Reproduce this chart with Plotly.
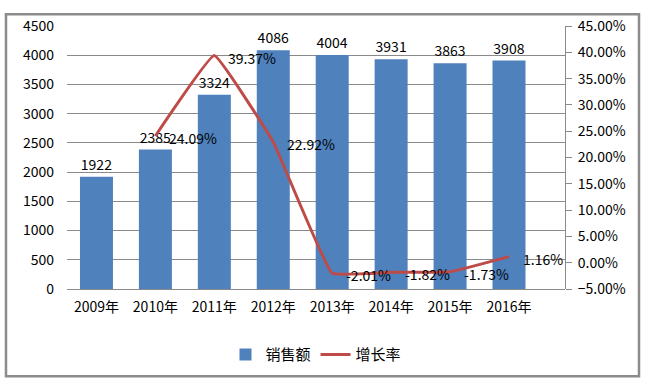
import plotly.graph_objects as go

years = ["2009年", "2010年", "2011年", "2012年", "2013年", "2014年", "2015年", "2016年"]
sales = [1922, 2385, 3324, 4086, 4004, 3931, 3863, 3908]
growth_years = ["2010年", "2011年", "2012年", "2013年", "2014年", "2015年", "2016年"]
growth = [0.2409, 0.3937, 0.2292, -0.0201, -0.0182, -0.0173, 0.0116]
growth_labels = ["24.09%", "39.37%", "22.92%", "-2.01%", "-1.82%", "-1.73%", "1.16%"]

FONT = "Noto Sans CJK SC"
BAR = "#4F81BD"
LINE = "#BE4B48"

fig = go.Figure()
fig.add_trace(go.Bar(
    x=years, y=sales, name="销售额", marker=dict(color=BAR, line=dict(width=0)),
    text=[str(v) for v in sales], textposition="outside", cliponaxis=False,
    textfont=dict(family=FONT, size=14, color="#000000"),
))
fig.add_trace(go.Scatter(
    x=growth_years, y=growth, name="增长率", yaxis="y2", mode="lines",
    line=dict(color=LINE, width=3, shape="spline", smoothing=0.25),
    cliponaxis=False,
))
for xv, yv, lab in zip(growth_years, growth, growth_labels):
    fig.add_annotation(x=xv, y=yv, yref="y2", text=lab, showarrow=False,
                       xanchor="left", yanchor="middle", xshift=12, yshift=-2,
                       font=dict(family=FONT, size=14, color="#000000"))

frame = dict(color="#8c8c8c", width=2.5)
fig.update_layout(
    width=650, height=384,
    margin=dict(l=67, r=85, t=26, b=95),
    paper_bgcolor="white", plot_bgcolor="white",
    font=dict(family=FONT, size=14, color="#000000"),
    bargap=0.44,
    showlegend=True,
    legend=dict(orientation="h", x=0.50, xanchor="center", y=-0.25, yanchor="middle",
                font=dict(family=FONT, size=15, color="#000000"), itemwidth=30),
    xaxis=dict(showgrid=False, showline=False, ticks="", tickfont=dict(size=14),
               ticklabelstandoff=8, automargin=False),
    yaxis=dict(range=[0, 4500], dtick=500, showgrid=True, gridcolor="#8a8a8a", gridwidth=1,
               zeroline=True, zerolinecolor="#8a8a8a", zerolinewidth=1,
               showline=False, ticks="", tickfont=dict(size=14), ticklabelstandoff=12,
               automargin=False),
    yaxis2=dict(range=[-0.05, 0.45], dtick=0.05, tickformat=".2%", overlaying="y", side="right",
                showgrid=False, zeroline=False, showline=True, linecolor="#8a8a8a", linewidth=1,
                ticks="outside", ticklen=6, tickcolor="#8a8a8a", tickfont=dict(size=14),
                ticklabelstandoff=3, automargin=False),
    shapes=[
        dict(type="rect", xref="paper", yref="paper", x0=-0.1225, x1=1.1486, y0=-0.332, y1=1.045,
             line=frame, fillcolor="rgba(0,0,0,0)", layer="above"),
    ],
)

fig.write_html("out.html", config={"displayModeBar": False},
               post_script="document.body.style.margin='0';document.body.style.overflow='hidden';")
